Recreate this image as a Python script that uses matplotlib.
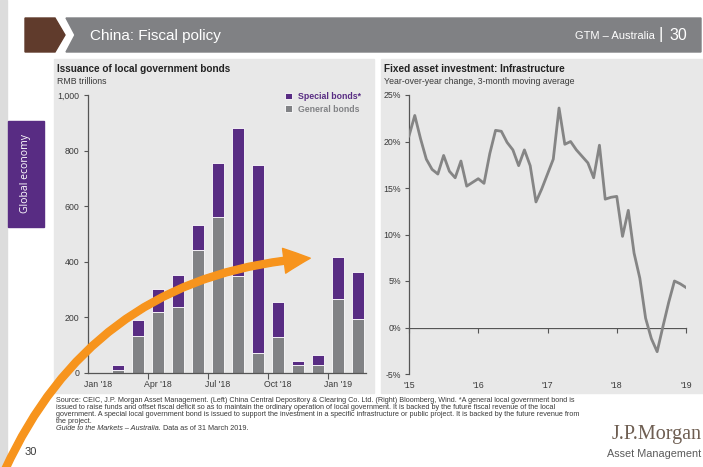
import numpy as np
import matplotlib
matplotlib.use("Agg")
import matplotlib.pyplot as plt
from matplotlib.patches import Rectangle, Polygon, FancyArrowPatch

#### DATA
months = ["Jan '18", "Feb '18", "Mar '18", "Apr '18", "May '18", "Jun '18", "Jul '18",
          "Aug '18", "Sep '18", "Oct '18", "Nov '18", "Dec '18", "Jan '19", "Feb '19"]
general_bonds = [0, 10, 132, 220, 235, 442, 562, 350, 72, 127, 26, 26, 264, 192]
special_bonds = [0, 18, 58, 80, 118, 91, 192, 531, 675, 127, 17, 36, 151, 171]
bond_ticks = [0, 200, 400, 600, 800, 1000]
bond_ticklabels = ["0", "200", "400", "600", "800", "1,000"]

# infrastructure FAI, monthly Jan 2015 .. Jan 2019
fai_infra = [20.6, 22.8, 20.3, 18.1, 17.0, 16.5, 18.5, 16.8, 16.1, 17.9, 15.2, 15.6,
             16.0, 15.5, 18.7, 21.2, 21.1, 19.9, 19.1, 17.4, 19.1, 17.4, 13.5, 14.9,
             16.5, 18.1, 23.6, 19.7, 20.0, 19.1, 18.4, 17.7, 16.1, 19.6, 13.8, 14.0,
             14.1, 9.8, 12.6, 8.0, 5.3, 1.0, -1.2, -2.6, 0.1, 2.7, 5.0, 4.7, 4.3]
year_labels = ["'15", "'16", "'17", "'18", "'19"]
pct_ticks = [-5, 0, 5, 10, 15, 20, 25]

#### STYLE
W, H = 703, 467
PURPLE = "#582c83"
GREY = "#818285"
PANEL = "#e8e8e8"
TXT = "#3a3a3a"
plt.rcParams['font.family'] = ['Liberation Sans', 'DejaVu Sans']
NARROW = ['Liberation Sans Narrow', 'Liberation Sans', 'DejaVu Sans']

def px_rect(x0, y0, x1, y1):
    # pixel box (top-left origin) -> figure fraction rect
    return [x0 / W, 1 - y1 / H, (x1 - x0) / W, (y1 - y0) / H]

def fx(x):
    return x / W

def fy(y):
    return 1 - y / H

fig = plt.figure(figsize=(W / 100, H / 100), dpi=100)
fig.patch.set_facecolor("white")

# page furniture
fig.add_artist(Rectangle((0, 0), fx(7), 1, transform=fig.transFigure, color="#dcdcdc", zorder=0))
fig.add_artist(Rectangle((fx(8), fy(227)), fx(36), (227 - 121) / H, transform=fig.transFigure,
                         color=PURPLE, zorder=1))
fig.text(fx(26), fy(174), "Global economy", rotation=90, color="white", fontsize=7.5,
         family=['Open Sans', 'DejaVu Sans'], ha="center", va="center")

brown = [(25, 18), (55, 18), (65, 35), (55, 52), (25, 52)]
bar = [(66, 18), (701, 18), (701, 52), (66, 52), (75, 35)]
fig.add_artist(Polygon([(fx(a), fy(b)) for a, b in brown], closed=True, transform=fig.transFigure,
                       color="#603b2c", zorder=1))
fig.add_artist(Polygon([(fx(a), fy(b)) for a, b in bar], closed=True, transform=fig.transFigure,
                       color="#808184", zorder=1))
fig.text(fx(90), fy(36), "China: Fiscal policy", color="white", fontsize=11, family=NARROW,
         ha="left", va="center")
fig.text(fx(655), fy(36), "GTM \u2013 Australia", color="white", fontsize=8, family=NARROW,
         ha="right", va="center")
fig.text(fx(661), fy(35), "|", color="white", fontsize=12, family=NARROW, ha="center", va="center")
fig.text(fx(669), fy(36), "30", color="white", fontsize=11.5, family=NARROW, ha="left", va="center")

# grey panels
fig.add_artist(Rectangle((fx(54), fy(393)), fx(320), (393 - 59) / H, transform=fig.transFigure,
                         color=PANEL, zorder=0))
fig.add_artist(Rectangle((fx(381), fy(393)), fx(322), (393 - 59) / H, transform=fig.transFigure,
                         color=PANEL, zorder=0))

#### LEFT CHART - bond issuance
ax1 = fig.add_axes(px_rect(88, 95, 366, 372.7))
ax1.set_facecolor("none")
x = np.arange(len(months))
ax1.bar(x, general_bonds, width=0.62, color=GREY, edgecolor="white", linewidth=0.6,
        label="General bonds", zorder=2)
ax1.bar(x, special_bonds, width=0.62, bottom=general_bonds, color=PURPLE, edgecolor="white",
        linewidth=0.6, label="Special bonds*", zorder=2)
ax1.set_xlim(-0.5, 13.4)
ax1.set_ylim(0, 1000)
ax1.set_yticks(bond_ticks)
ax1.set_yticklabels(bond_ticklabels)
ax1.set_xticks(x[3::3] - 0.5)  # quarter boundaries get the tick marks
ax1.set_xticklabels([])
ax1.set_xticks(x[::3], minor=True)
ax1.set_xticklabels(months[::3], minor=True)
ax1.tick_params(axis="x", which="major", length=4, width=0.8, color="#555555")
ax1.tick_params(axis="x", which="minor", length=0, pad=5, labelsize=6.3, labelcolor=TXT)
ax1.tick_params(axis="y", length=3, width=0.8, color="#555555", labelsize=6.3, labelcolor=TXT, pad=3)
for s in ["top", "right"]:
    ax1.spines[s].set_visible(False)
for s in ["left", "bottom"]:
    ax1.spines[s].set_color("#555555")
    ax1.spines[s].set_linewidth(0.9)
h, l = ax1.get_legend_handles_labels()
leg = ax1.legend(h[::-1], l[::-1], loc="upper right", bbox_to_anchor=(1.0, 1.03), frameon=False,
                 fontsize=6.3, handlelength=0.8, handleheight=0.8, handletextpad=0.6,
                 labelspacing=0.45, borderaxespad=0.2)
for t, c in zip(leg.get_texts(), [PURPLE, GREY]):
    t.set_color(c)
    t.set_fontweight("bold")
fig.text(fx(57), fy(69), "Issuance of local government bonds", fontsize=7.2, fontweight="bold",
         color="#222222", va="center")
fig.text(fx(57), fy(82), "RMB trillions", fontsize=6.3, color=TXT, va="center")

#### RIGHT CHART - infrastructure FAI
ax2 = fig.add_axes(px_rect(409, 95, 686, 374))
ax2.set_facecolor("none")
t = np.arange(len(fai_infra))
ax2.plot(t, fai_infra, color="#858585", linewidth=2.0, zorder=3)
ax2.set_xlim(0, 48)
ax2.set_ylim(-5, 25)
ax2.set_yticks(pct_ticks)
ax2.set_yticklabels([f"{v}%" for v in pct_ticks])
ax2.set_xticks([0, 12, 24, 36, 48])
ax2.set_xticklabels(year_labels)
ax2.tick_params(axis="x", length=0, pad=5, labelsize=6.3, labelcolor=TXT)
ax2.tick_params(axis="y", length=3, width=0.8, color="#555555", labelsize=6.3, labelcolor=TXT, pad=3)
for s in ["top", "right", "bottom"]:
    ax2.spines[s].set_visible(False)
ax2.spines["left"].set_color("#555555")
ax2.spines["left"].set_linewidth(0.9)
zero_ax = ax2.secondary_xaxis(5 / 30)  # axis line at 0%
zero_ax.set_xticks([0, 12, 24, 36, 48])
zero_ax.set_xticklabels([])
zero_ax.tick_params(axis="x", length=3.5, width=0.8, color="#555555")
zero_ax.spines["bottom"].set_color("#555555")
zero_ax.spines["bottom"].set_linewidth(0.9)
fig.text(fx(384), fy(69), "Fixed asset investment: Infrastructure", fontsize=7.2, fontweight="bold",
         color="#222222", va="center")
fig.text(fx(384), fy(82), "Year-over-year change, 3-month moving average", fontsize=6.3, color=TXT,
         va="center")

#### FOOTER
foot = ["Source: CEIC, J.P. Morgan Asset Management. (Left) China Central Depository & Clearing Co. Ltd. (Right) Bloomberg, Wind. *A general local government bond is",
        "issued to raise funds and offset fiscal deficit so as to maintain the ordinary operation of local government. It is backed by the future fiscal revenue of the local",
        "government. A special local government bond is issued to support the investment in a specific infrastructure or public project. It is backed by the future revenue from",
        "the project."]
for i, line in enumerate(foot):
    fig.text(fx(56), fy(400.5 + 6.9 * i), line, fontsize=5.25, color=TXT, va="center")
gtext = fig.text(fx(56), fy(428), "Guide to the Markets \u2013 Australia.", fontsize=5.25, color=TXT,
                 va="center", style="italic")
fig.canvas.draw()
bb = gtext.get_window_extent()
fig.text(bb.x1 / W, fy(428), " Data as of 31 March 2019.", fontsize=5.25, color=TXT, va="center")
fig.text(fx(25), fy(452), "30", fontsize=8, color=TXT, va="center")
fig.text(fx(702), fy(435), "J.P.Morgan", fontsize=14.5, family=['Liberation Serif', 'DejaVu Serif'],
         color="#6e5e52", ha="right", va="center")
fig.text(fx(701), fy(454), "Asset Management", fontsize=7.8, family=NARROW, color="#5b5b5b",
         ha="right", va="center")

#### ORANGE ARROW
arrow = FancyArrowPatch((fx(4), fy(472)), (fx(313), fy(258)), transform=fig.transFigure,
                        connectionstyle="arc3,rad=-0.3",
                        arrowstyle="simple,head_width=1.0,head_length=1.05,tail_width=0.28",
                        mutation_scale=18, color="#f7941d", zorder=10)
fig.add_artist(arrow)

fig.savefig("out.png", dpi=100)
